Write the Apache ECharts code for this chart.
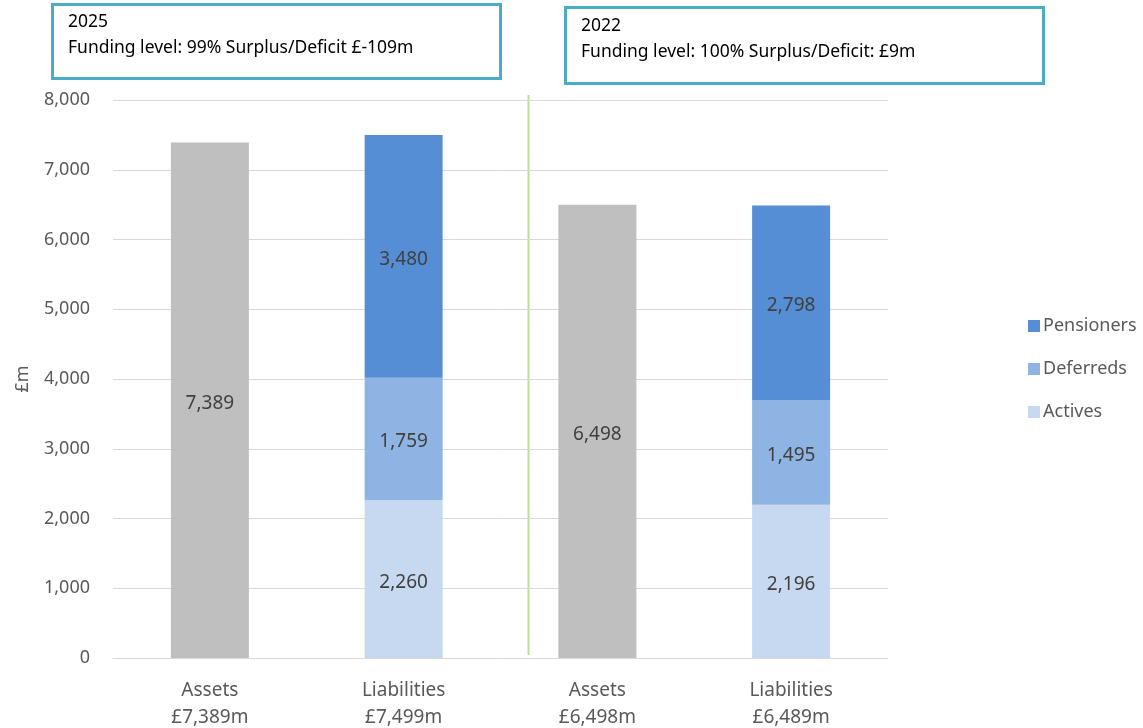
<!DOCTYPE html>
<html>
<head>
<meta charset="utf-8">
<script src="https://cdn.jsdelivr.net/npm/echarts@6/dist/echarts.min.js"></script>
<style>
  html, body { margin: 0; padding: 0; background: #fff; }
  #myChart { width: 1143px; height: 728px; }
</style>
</head>
<body>
<div id="myChart"></div>
<script>
// 类目和数值
const categories = ['Assets\n£7,389m', 'Liabilities\n£7,499m', 'Assets\n£6,498m', 'Liabilities\n£6,489m'];
const assets = [7389, '-', 6498, '-'];
const actives = ['-', 2260, '-', 2196];
const deferreds = ['-', 1759, '-', 1495];
const pensioners = ['-', 3480, '-', 2798];
const yTicks = [0, 8000, 1000]; // min, max, interval
const boxTexts = [
  '2025\nFunding level: 99% Surplus/Deficit £-109m',
  '2022\nFunding level: 100% Surplus/Deficit: £9m'
];

const font = 'Noto Sans';
const labelStyle = {
  show: true,
  position: 'inside',
  offset: [0, 3],
  color: '#404040',
  fontSize: 19,
  fontFamily: font,
  formatter: p => p.value.toLocaleString('en-GB')
};

function barSeries (name, data, color) {
  return {
    name: name,
    type: 'bar',
    stack: 'total',
    barWidth: 78,
    itemStyle: { color: color },
    label: labelStyle,
    data: data
  };
}

const option = {
  animation: false,
  textStyle: { fontFamily: font },
  grid: { left: 113, right: 255, top: 100, bottom: 70, outerBoundsMode: 'none' },
  legend: {
    orient: 'vertical',
    left: 1023,
    top: 312,
    itemWidth: 12,
    itemHeight: 12,
    itemGap: 25,
    icon: 'rect',
    textStyle: { color: '#595959', fontSize: 18, fontFamily: font, padding: [0, 0, 0, -2] },
    data: ['Pensioners', 'Deferreds', 'Actives']
  },
  xAxis: {
    type: 'category',
    data: categories,
    axisLine: { lineStyle: { color: '#D9D9D9', width: 1 } },
    axisTick: { show: false },
    axisLabel: { color: '#595959', fontSize: 19, lineHeight: 27, margin: 19, fontFamily: font }
  },
  yAxis: {
    type: 'value',
    min: yTicks[0],
    max: yTicks[1],
    interval: yTicks[2],
    name: '£m',
    nameLocation: 'middle',
    nameGap: 81,
    nameRotate: 90,
    nameTextStyle: { color: '#595959', fontSize: 18, fontFamily: font },
    axisLabel: {
      color: '#595959', fontSize: 18, margin: 23, fontFamily: font,
      formatter: v => v.toLocaleString('en-GB')
    },
    splitLine: { lineStyle: { color: '#D9D9D9', width: 1 } }
  },
  graphic: [
    // 年份说明框
    {
      type: 'rect', left: 51, top: 3,
      shape: { width: 448, height: 74 },
      style: { fill: '#fff', stroke: '#4BACC6', lineWidth: 3 }
    },
    {
      type: 'text', left: 68, top: 9,
      style: { text: boxTexts[0], fill: '#000', fontSize: 17.5, lineHeight: 26, fontFamily: font }
    },
    {
      type: 'rect', left: 564, top: 6,
      shape: { width: 478, height: 76 },
      style: { fill: '#fff', stroke: '#4BACC6', lineWidth: 3 }
    },
    {
      type: 'text', left: 581, top: 13,
      style: { text: boxTexts[1], fill: '#000', fontSize: 17.5, lineHeight: 26, fontFamily: font }
    },
    // 分隔线
    {
      type: 'line',
      shape: { x1: 528.5, y1: 95, x2: 528.5, y2: 655 },
      style: { stroke: '#C3DA9C', lineWidth: 2 }
    }
  ],
  series: [
    barSeries('Assets', assets, '#BFBFBF'),
    barSeries('Actives', actives, '#C6D9F1'),
    barSeries('Deferreds', deferreds, '#8EB4E3'),
    barSeries('Pensioners', pensioners, '#558ED5')
  ]
};

let myChart = echarts.init(document.getElementById('myChart'));
myChart.setOption(option);
</script>
</body>
</html>
